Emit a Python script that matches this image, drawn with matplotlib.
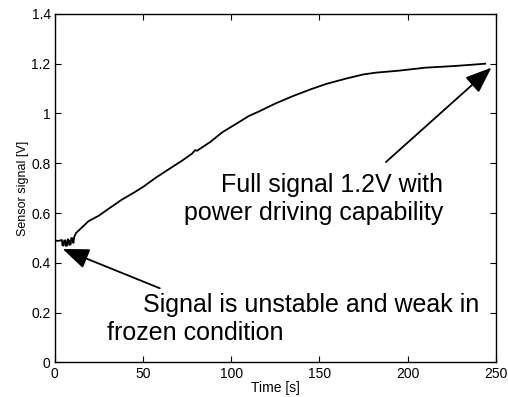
import numpy as np
import matplotlib.pyplot as plt

plt.rcParams['font.family'] = ['Liberation Sans', 'DejaVu Sans']

# Sensor signal
time_s = [0, 2, 4, 4.3, 5, 5.3, 6, 6.3, 7, 7.3, 8, 8.3, 9, 9.3, 10, 10.5, 11,
          12, 15, 19, 25, 30, 38, 45, 50, 57, 65, 72, 78, 79.5, 80.5, 82, 88,
          95, 102, 110, 116, 125, 135, 145, 154, 165, 175, 182, 195, 210, 225,
          235, 244]
signal_v = [0.49, 0.488, 0.492, 0.47, 0.47, 0.49, 0.49, 0.468, 0.47, 0.495,
            0.49, 0.472, 0.475, 0.5, 0.498, 0.48, 0.505, 0.52, 0.54, 0.567,
            0.59, 0.615, 0.654, 0.683, 0.705, 0.741, 0.778, 0.81, 0.84, 0.853,
            0.85, 0.857, 0.885, 0.925, 0.955, 0.99, 1.009, 1.04, 1.07, 1.097,
            1.119, 1.14, 1.157, 1.164, 1.172, 1.184, 1.19, 1.195, 1.2]

x_ticks = [0, 50, 100, 150, 200, 250]
y_ticks = [0, 0.2, 0.4, 0.6, 0.8, 1, 1.2, 1.4]
y_tick_labels = ['0', '0.2', '0.4', '0.6', '0.8', '1', '1.2', '1.4']

fig = plt.figure(figsize=(5.08, 3.97), dpi=100)
ax = fig.add_axes([0.108, 0.087, 0.868, 0.878])

ax.plot(time_s, signal_v, color='black', lw=1.3)

ax.set_xlim(0, 250)
ax.set_ylim(0, 1.4)
ax.set_xticks(x_ticks)
ax.set_yticks(y_ticks)
ax.set_yticklabels(y_tick_labels)
ax.tick_params(direction='in', top=True, right=True, length=4, labelsize=10, pad=3)
for sp in ax.spines.values():
    sp.set_linewidth(1.0)

ax.set_xlabel('Time [s]', fontsize=10, labelpad=0)
ax.set_ylabel('Sensor signal [V]', fontsize=9, labelpad=2)

arrow = dict(arrowstyle='-|>,head_length=0.9,head_width=0.35', color='black',
             lw=1.3, shrinkA=0, shrinkB=0, mutation_scale=18)
ax.annotate('', xy=(4.4, 0.456), xytext=(59.5, 0.298), arrowprops=arrow)
ax.annotate('', xy=(247.5, 1.184), xytext=(187.7, 0.805), arrowprops=arrow)

ax.text(220, 0.714, 'Full signal 1.2V with', fontsize=18, ha='right', va='center')
ax.text(220, 0.602, 'power driving capability', fontsize=18, ha='right', va='center')
ax.text(50, 0.232, 'Signal is unstable and weak in', fontsize=18, ha='left', va='center')
ax.text(29.3, 0.119, 'frozen condition', fontsize=18, ha='left', va='center')

fig.savefig('out.png', dpi=100)
